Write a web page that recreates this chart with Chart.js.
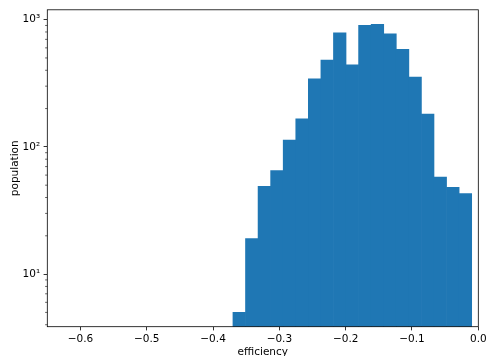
<!DOCTYPE html>
<html>
<head>
<meta charset="utf-8">
<script src="https://cdn.jsdelivr.net/npm/chart.js@4"></script>
<style>
  html, body { margin: 0; padding: 0; background: #fff; }
</style>
</head>
<body>
<canvas id="myChart" width="491" height="356"></canvas>
<script>
// histogram bin edges (efficiency) and counts per bin
const binEdges = [-0.3700, -0.3511, -0.3321, -0.3132, -0.2942, -0.2753, -0.2563, -0.2374, -0.2184, -0.1995,
    -0.1805, -0.1616, -0.1426, -0.1237, -0.1047, -0.0858, -0.0668, -0.0479, -0.0289, -0.0100];
const population = [5, 19, 49, 65, 113, 166, 343, 481, 789, 442, 904, 920, 774, 585, 353, 181, 58, 48, 43];
const xTicks = [-0.6, -0.5, -0.4, -0.3, -0.2, -0.1, 0.0];
const yTicks = [10, 100, 1000];
const yMinorTicks = [4, 5, 6, 7, 8, 9, 20, 30, 40, 50, 60, 70, 80, 90, 200, 300, 400, 500, 600, 700, 800, 900];
const supers = { 1: "\u00b9", 2: "\u00b2", 3: "\u00b3" };

Chart.defaults.font.family = "'DejaVu Sans', sans-serif";
Chart.defaults.font.size = 10.5;
Chart.defaults.color = "#000";

const points = population.map((v, i) => ({
    x: (binEdges[i] + binEdges[i + 1]) / 2,
    y: v,
}));

const frame = {
    id: "frame",
    afterDraw(chart) {
        const { ctx, chartArea: a } = chart;
        const ys = chart.scales.y;
        ctx.save();
        ctx.strokeStyle = "#000";
        ctx.lineWidth = 0.8;
        ctx.strokeRect(a.left, a.top, a.right - a.left, a.bottom - a.top);
        // minor log ticks
        ctx.beginPath();
        yMinorTicks.forEach((v) => {
            const p = ys.getPixelForValue(v);
            if (p < a.top || p > a.bottom) return;
            ctx.moveTo(a.left - 2.2, p);
            ctx.lineTo(a.left, p);
        });
        ctx.lineWidth = 0.6;
        ctx.stroke();
        ctx.restore();
    },
};

const config = {
    type: "bar",
    data: {
        datasets: [
            {
                data: points,
                backgroundColor: "#1f77b4",
                borderWidth: 0,
                barPercentage: 1.0,
                categoryPercentage: 1.0,
            },
        ],
    },
    options: {
        responsive: false,
        animation: false,
        devicePixelRatio: 1,
        layout: { padding: { top: 4.7, right: 12.7, left: 0, bottom: 0 } },
        plugins: {
            legend: { display: false },
            tooltip: { enabled: false },
        },
        scales: {
            x: {
                type: "linear",
                offset: false,
                min: -0.65,
                max: 0,
                afterBuildTicks: (s) => { s.ticks = xTicks.map((v) => ({ value: v })); },
                afterFit: (s) => { s.height = 29.3; },
                ticks: {
                    padding: 3,
                    maxRotation: 0,
                    callback: (v) => v.toFixed(1).replace("-", "\u2212"),
                },
                grid: { offset: false, drawOnChartArea: false, color: "#000", tickLength: 3.7, tickWidth: 0.8 },
                border: { display: false },
                title: { display: true, text: "efficiency", padding: { top: 0, bottom: -3 } },
            },
            y: {
                type: "logarithmic",
                min: 3.86,
                max: 1195,
                afterBuildTicks: (s) => { s.ticks = yTicks.map((v) => ({ value: v })); },
                afterFit: (s) => { s.width = 47.3; },
                ticks: {
                    padding: 3.5,
                    callback: (v) => "10" + supers[Math.round(Math.log10(v))],
                },
                grid: { offset: false, drawOnChartArea: false, color: "#000", tickLength: 3.7, tickWidth: 0.8 },
                border: { display: false },
                title: { display: true, text: "population", padding: { top: 8.5, bottom: 0 } },
            },
        },
    },
    plugins: [frame],
};

const ctx = document.getElementById("myChart").getContext("2d");
const myChart = new Chart(ctx, config);
</script>
</body>
</html>
